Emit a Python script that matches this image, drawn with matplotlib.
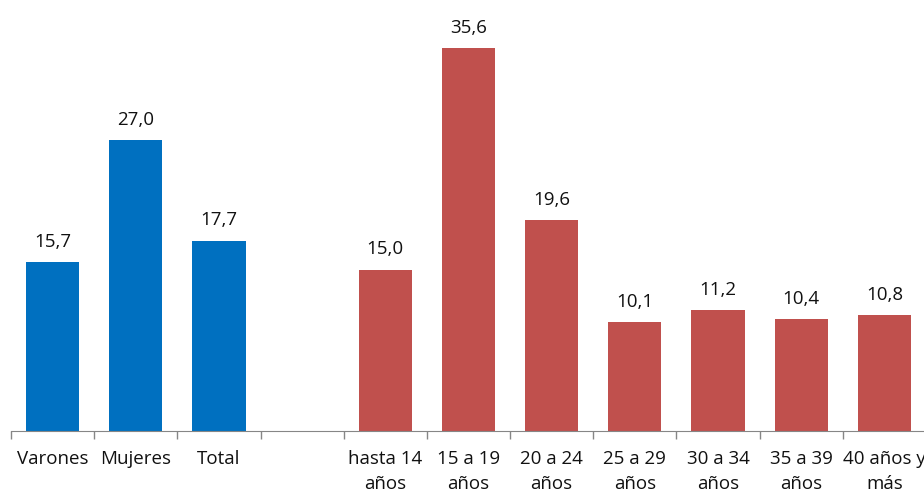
import numpy as np
import matplotlib
matplotlib.use("Agg")
import matplotlib.pyplot as plt

# Data
sex_labels = ["Varones", "Mujeres", "Total"]
sex_values = [15.7, 27.0, 17.7]
age_labels = ["hasta 14\naños", "15 a 19\naños", "20 a 24\naños", "25 a 29\naños",
              "30 a 34\naños", "35 a 39\naños", "40 años y\nmás"]
age_values = [15.0, 35.6, 19.6, 10.1, 11.2, 10.4, 10.8]

BLUE = "#0070C0"
RED = "#C0504D"

plt.rcParams["font.family"] = ["Open Sans", "DejaVu Sans"]

fig = plt.figure(figsize=(9.24, 4.93), dpi=100)
ax = fig.add_axes([11 / 924, 62 / 493, 915 / 924, 431 / 493])

labels = sex_labels + [""] + age_labels
x_sex = np.arange(len(sex_labels))
x_age = np.arange(len(age_labels)) + len(sex_labels) + 1
width = 0.64

bars1 = ax.bar(x_sex, sex_values, width=width, color=BLUE)
bars2 = ax.bar(x_age, age_values, width=width, color=RED)

for bars, vals in ((bars1, sex_values), (bars2, age_values)):
    for b, v in zip(bars, vals):
        ax.annotate(f"{v:.1f}".replace(".", ","),
                    (b.get_x() + b.get_width() / 2, v),
                    xytext=(0, 8), textcoords="offset points",
                    ha="center", va="bottom", fontsize=13.5, color="#111111")

n = len(labels)
ax.set_xlim(-0.5, n - 0.5)
ax.set_ylim(0, 40.05)
ax.set_xticks(np.arange(n))
ax.set_xticklabels(labels, fontsize=13.5, color="#111111", linespacing=1.45)
ax.tick_params(axis="x", which="major", length=0, pad=14)
ax.set_xticks(np.arange(n + 1) - 0.5, minor=True)
ax.tick_params(axis="x", which="minor", length=6, color="#868686", width=1)
ax.set_yticks([])

for s in ("top", "right", "left"):
    ax.spines[s].set_visible(False)
ax.spines["bottom"].set_color("#868686")

fig.savefig("out.png", dpi=100)
